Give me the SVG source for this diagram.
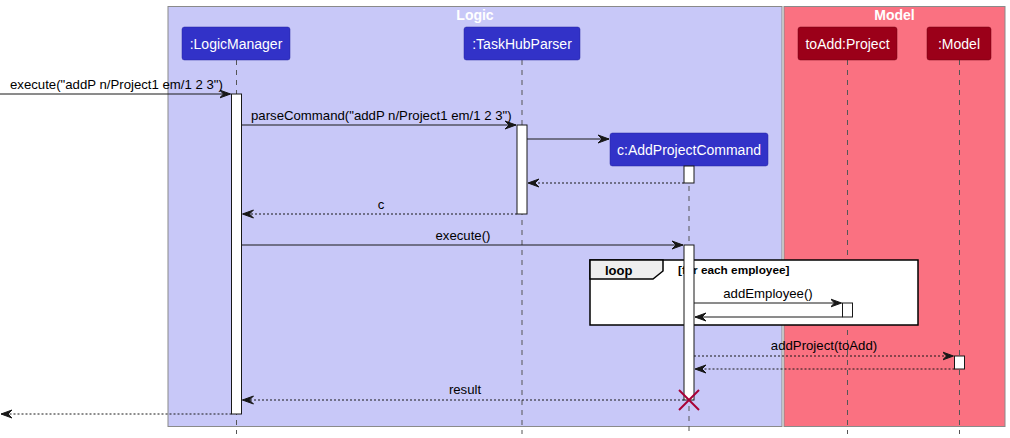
<svg xmlns="http://www.w3.org/2000/svg" width="1010" height="438" viewBox="0 0 1010 438">
<defs>
<marker id="ah" viewBox="0 0 12 10" refX="11" refY="5" markerWidth="12" markerHeight="10" markerUnits="userSpaceOnUse" orient="auto">
<polygon points="0,1 11,5 0,9 4,5" fill="#181818" stroke="#181818" stroke-width="1"/>
</marker>
</defs>
<style>
text{font-family:"Liberation Sans",Arial,sans-serif}
.box{stroke:#8a8a8a;stroke-width:1}
.ttl{font-size:14px;font-weight:bold;fill:#fff;text-anchor:middle}
.pl{fill:#3232c8;stroke:#2626a0;stroke-width:0.5}
.pm{fill:#9b0019;stroke:#700012;stroke-width:0.5}
.pt{font-size:14px;fill:#fff;text-anchor:middle}
.life{stroke:#555;stroke-width:1;stroke-dasharray:5,5}
.act{fill:#fff;stroke:#181818;stroke-width:1}
.msg{stroke:#181818;stroke-width:1;fill:none;marker-end:url(#ah)}
.ret{stroke:#181818;stroke-width:1;fill:none;stroke-dasharray:2,2;marker-end:url(#ah)}
.ml{font-size:13.2px;fill:#000}
.c{text-anchor:middle}
</style>
<g id="boxes">
<rect class="box" x="168" y="6.5" width="614" height="420" fill="#c8c8f8"/>
<text class="ttl" x="475" y="20">Logic</text>
<rect class="box" x="784" y="6.5" width="221" height="420" fill="#fa7181"/>
<text class="ttl" x="894.5" y="20">Model</text>
</g>
<g id="lifelines">
<line class="life" x1="236.5" y1="60" x2="236.5" y2="434"/>
<line class="life" x1="522" y1="60" x2="522" y2="434"/>
<line class="life" x1="689" y1="166" x2="689" y2="434"/>
<line class="life" x1="847.5" y1="60" x2="847.5" y2="434"/>
<line class="life" x1="959.5" y1="60" x2="959.5" y2="434"/>
</g>
<g id="LogicManager">
<rect class="pl" x="182" y="27" width="108" height="33" rx="2.5"/>
<text class="pt" x="236" y="49">:LogicManager</text>
</g>
<g id="TaskHubParser">
<rect class="pl" x="464" y="27" width="116" height="33" rx="2.5"/>
<text class="pt" x="522" y="49">:TaskHubParser</text>
</g>
<g id="toAddProject">
<rect class="pm" x="798" y="27" width="99" height="33" rx="2.5"/>
<text class="pt" x="847.5" y="49">toAdd:Project</text>
</g>
<g id="Model">
<rect class="pm" x="927" y="27" width="64" height="33" rx="2.5"/>
<text class="pt" x="959" y="49">:Model</text>
</g>
<g id="AddProjectCommand">
<rect class="pl" x="610" y="133" width="158" height="33" rx="2.5"/>
<text class="pt" x="689" y="155">c:AddProjectCommand</text>
</g>
<g id="loopframe">
<rect x="590" y="260" width="328" height="65" fill="#fff" stroke="#000" stroke-width="1.5"/>
<polygon points="590,260 663,260 663,271 653,279 590,279" fill="#eeeeee" stroke="#000" stroke-width="1.5"/>
<text x="605" y="275" font-size="13" font-weight="bold">loop</text>
<text x="678" y="274" font-size="11.8" font-weight="bold">[for each employee]</text>
</g>
<g id="activations">
<rect class="act" x="231.5" y="94" width="10" height="320"/>
<rect class="act" x="517" y="125" width="10" height="89"/>
<rect class="act" x="684" y="166" width="10" height="17"/>
<rect class="act" x="684" y="245" width="10" height="155"/>
<rect class="act" x="842.5" y="303" width="10" height="14"/>
<rect class="act" x="954.5" y="356" width="10" height="13"/>
</g>
<g id="connectors">
<line class="msg" x1="0" y1="94" x2="230.5" y2="94"/>
<text class="ml" x="10" y="89">execute("addP n/Project1 em/1 2 3")</text>
<line class="msg" x1="241.5" y1="125" x2="516" y2="125"/>
<text class="ml" x="251" y="120">parseCommand("addP n/Project1 em/1 2 3")</text>
<line class="msg" x1="527" y1="139" x2="609" y2="139"/>
<line class="ret" x1="684" y1="183" x2="528" y2="183"/>
<line class="ret" x1="517" y1="214" x2="242.5" y2="214"/>
<text class="ml c" x="381" y="209">c</text>
<line class="msg" x1="241.5" y1="245" x2="683" y2="245"/>
<text class="ml c" x="463" y="240">execute()</text>
<line class="msg" x1="694" y1="303" x2="841.5" y2="303"/>
<text class="ml c" x="768" y="298">addEmployee()</text>
<line class="msg" x1="842.5" y1="317" x2="695" y2="317"/>
<line class="ret" x1="694" y1="356" x2="953.5" y2="356"/>
<text class="ml c" x="824" y="350">addProject(toAdd)</text>
<line class="ret" x1="954.5" y1="369" x2="695" y2="369"/>
<line class="ret" x1="684" y1="400" x2="242.5" y2="400"/>
<text class="ml c" x="465" y="394">result</text>
<line class="ret" x1="231.5" y1="414" x2="1" y2="414"/>
</g>
<g id="destroy">
<line x1="679" y1="390" x2="699" y2="410" stroke="#a80036" stroke-width="2"/>
<line x1="699" y1="390" x2="679" y2="410" stroke="#a80036" stroke-width="2"/>
</g>
</svg>
